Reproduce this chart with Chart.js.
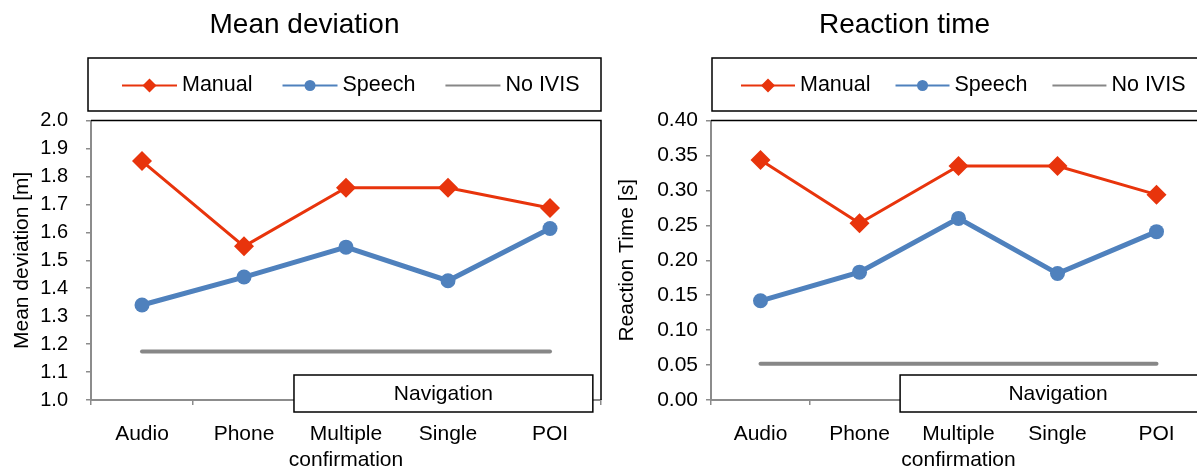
<!DOCTYPE html>
<html>
<head>
<meta charset="utf-8">
<script src="https://cdn.jsdelivr.net/npm/chart.js@4.4.0/dist/chart.umd.min.js"></script>
<style>
  html, body { margin: 0; padding: 0; background: #fff; overflow: hidden; }
  #wrap { position: relative; width: 1197px; height: 471px; overflow: hidden; }
  #devChart { position: absolute; left: 0; top: 0; }
  #rtChart { position: absolute; left: 603px; top: 0; }
</style>
</head>
<body>
<div id="wrap">
  <canvas id="devChart" width="611" height="471"></canvas>
  <canvas id="rtChart" width="620" height="471"></canvas>
</div>
<script>
// categories (x axis)
const categories = ['Audio', 'Phone', ['Multiple', 'confirmation'], 'Single', 'POI'];
const seriesNames = ['Manual', 'Speech', 'No IVIS'];
const groupLabel = 'Navigation';

// Mean deviation [m]
const devManual = [1.855, 1.55, 1.76, 1.76, 1.687];
const devSpeech = [1.34, 1.44, 1.547, 1.427, 1.614];
const devNoIvis = [1.174, 1.174, 1.174, 1.174, 1.174];
const devTicks = [1.0, 1.1, 1.2, 1.3, 1.4, 1.5, 1.6, 1.7, 1.8, 1.9, 2.0];

// Reaction time [s]
const rtManual = [0.3435, 0.253, 0.335, 0.335, 0.294];
const rtSpeech = [0.142, 0.183, 0.260, 0.181, 0.241];
const rtNoIvis = [0.052, 0.052, 0.052, 0.052, 0.052];
const rtTicks = [0.00, 0.05, 0.10, 0.15, 0.20, 0.25, 0.30, 0.35, 0.40];

const FONT = '"Liberation Sans", Arial, sans-serif';
const RED = '#e8340c';
const BLUE = '#4f81bd';
const GREY = '#878787';
const AXIS = '#8c8c8c';

// draws plot frame, the Navigation bracket and the boxed legend
const decorPlugin = {
    id: 'decor',
    afterDraw(chart) {
        const ctx = chart.ctx;
        const area = chart.chartArea;
        const cfg = chart.options.plugins.decor;
        const xs = chart.scales.x;
        ctx.save();

        // black top / right frame
        ctx.strokeStyle = '#000';
        ctx.lineWidth = 1.5;
        ctx.beginPath();
        ctx.moveTo(area.left, area.top);
        ctx.lineTo(area.right, area.top);
        ctx.lineTo(area.right, area.bottom);
        ctx.stroke();

        // Navigation box spanning the last three categories
        const nx1 = xs.getPixelForValue(cfg.navFrom);
        const nx2 = xs.getPixelForValue(cfg.navTo);
        const ny = area.bottom - 25;
        ctx.fillStyle = '#fff';
        ctx.fillRect(nx1, ny, nx2 - nx1, 37);
        ctx.strokeStyle = '#000';
        ctx.lineWidth = 1.5;
        ctx.strokeRect(nx1, ny, nx2 - nx1, 37);
        ctx.fillStyle = '#000';
        ctx.font = '21px ' + FONT;
        ctx.textAlign = 'center';
        ctx.textBaseline = 'middle';
        ctx.fillText(groupLabel, (nx1 + Math.min(nx2, chart.width)) / 2, ny + 19);

        // legend
        const lb = cfg.legendBox;
        ctx.strokeRect(lb.x, lb.y, lb.w, lb.h);
        const ly = lb.y + lb.h / 2 + 1;
        const len = cfg.legendLine;
        let x = cfg.legendStart;
        ctx.textAlign = 'left';
        ctx.font = cfg.legendFont + 'px ' + FONT;
        chart.data.datasets.forEach(ds => {
            ctx.strokeStyle = ds.borderColor;
            ctx.lineWidth = 2;
            ctx.beginPath();
            ctx.moveTo(x, ly);
            ctx.lineTo(x + len, ly);
            ctx.stroke();
            if (ds.pointRadius > 0) {
                ctx.fillStyle = ds.pointBackgroundColor;
                Chart.helpers.drawPoint(ctx, {
                    pointStyle: ds.pointStyle,
                    radius: ds.pointStyle === 'rectRot' ? 7 : 5.5,
                    borderWidth: 0
                }, x + len / 2, ly);
            }
            ctx.fillStyle = '#000';
            ctx.fillText(ds.label, x + len + 5, ly);
            x += len + 5 + ctx.measureText(ds.label).width + cfg.legendGap;
        });
        ctx.restore();
    }
};

function makeChart(id, manual, speech, noIvis, ticks, yTitle, opts) {
    const ctx = document.getElementById(id).getContext('2d');
    return new Chart(ctx, {
        type: 'line',
        data: {
            labels: categories,
            datasets: [{
                label: seriesNames[0],
                data: manual,
                borderColor: RED,
                backgroundColor: RED,
                pointBackgroundColor: RED,
                pointBorderWidth: 0,
                borderWidth: 3,
                pointStyle: 'rectRot',
                pointRadius: 10,
                order: 1
            }, {
                label: seriesNames[1],
                data: speech,
                borderColor: BLUE,
                backgroundColor: BLUE,
                pointBackgroundColor: BLUE,
                pointBorderWidth: 0,
                borderWidth: 5,
                pointStyle: 'circle',
                pointRadius: 7.5,
                order: 2
            }, {
                label: seriesNames[2],
                data: noIvis,
                borderColor: GREY,
                backgroundColor: GREY,
                pointBackgroundColor: GREY,
                borderWidth: 4,
                borderCapStyle: 'round',
                pointRadius: 0,
                order: 3
            }]
        },
        options: {
            responsive: false,
            animation: false,
            devicePixelRatio: 1,
            layout: { padding: { left: 0, right: opts.padRight, top: 0, bottom: 0 } },
            plugins: {
                legend: { display: false },
                tooltip: { enabled: false },
                title: {
                    display: true,
                    text: opts.title,
                    color: '#000',
                    font: { family: FONT, size: 28, weight: 'normal' },
                    padding: { top: 8, bottom: 79 }
                },
                decor: opts.decor
            },
            scales: {
                x: {
                    offset: true,
                    afterFit(scale) { scale.height = 71; },
                    border: { color: AXIS, width: 2 },
                    grid: { drawOnChartArea: false, drawTicks: true, tickLength: 5, color: AXIS, lineWidth: 1.5, offset: true },
                    ticks: {
                        color: '#000',
                        padding: 17,
                        maxRotation: 0,
                        autoSkip: false,
                        font: { family: FONT, size: 21, lineHeight: 1.2 }
                    }
                },
                y: {
                    min: ticks[0],
                    max: ticks[ticks.length - 1],
                    afterFit(scale) { scale.width = opts.yWidth; },
                    afterBuildTicks(scale) { scale.ticks = ticks.map(v => ({ value: v })); },
                    border: { color: AXIS, width: 2 },
                    grid: { drawOnChartArea: false, drawTicks: true, tickLength: 5, color: AXIS, lineWidth: 1.5 },
                    ticks: {
                        color: '#000',
                        padding: opts.yPad,
                        font: { family: FONT, size: opts.yFont },
                        callback: v => Number(v).toFixed(opts.decimals)
                    },
                    title: {
                        display: true,
                        text: yTitle,
                        color: '#000',
                        font: { family: FONT, size: 21 },
                        padding: { top: opts.yTitlePad, bottom: 0 }
                    }
                }
            }
        },
        plugins: [decorPlugin]
    });
}

makeChart('devChart', devManual, devSpeech, devNoIvis, devTicks, 'Mean deviation [m]', {
    title: 'Mean deviation',
    padRight: 2,
    yWidth: 91,
    yPad: 18,
    yFont: 20,
    yTitlePad: 10,
    decimals: 1,
    decor: {
        navFrom: 1.49, navTo: 4.42,
        legendBox: { x: 88, y: 58, w: 513, h: 53 },
        legendStart: 122,
        legendLine: 55,
        legendFont: 21.5,
        legendGap: 30
    }
});

makeChart('rtChart', rtManual, rtSpeech, rtNoIvis, rtTicks, 'Reaction Time [s]', {
    title: 'Reaction time',
    padRight: 17,
    yWidth: 108,
    yPad: 8,
    yFont: 21,
    yTitlePad: 12,
    decimals: 2,
    decor: {
        navFrom: 1.41, navTo: 4.6,
        legendBox: { x: 109, y: 58, w: 600, h: 53 },
        legendStart: 138,
        legendLine: 54,
        legendFont: 21.5,
        legendGap: 25
    }
});
</script>
</body>
</html>
